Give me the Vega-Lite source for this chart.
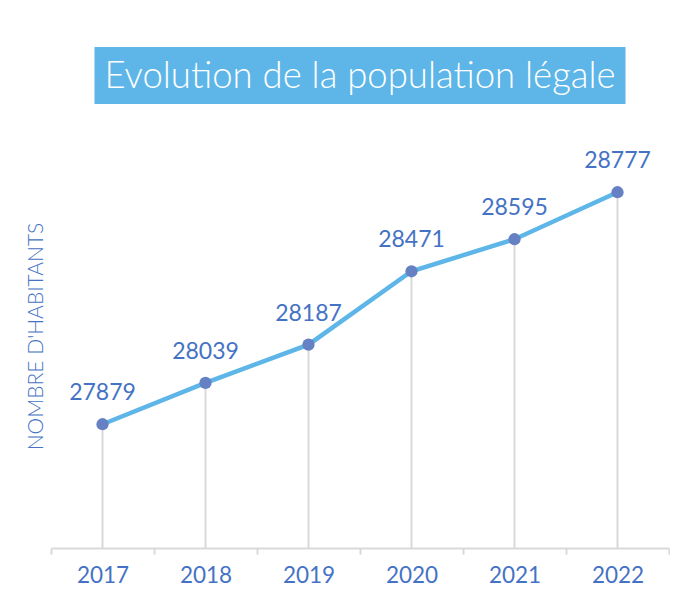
{
  "$schema": "https://vega.github.io/schema/vega-lite/v6.json",
  "padding": {"left": 25, "top": 47, "right": 0, "bottom": 0},
  "config": {"font": "Lato", "view": {"stroke": null}},
  "datasets": {
    "titre": [{"label": "Evolution de la population légale"}],
    "pop": [
      {"year": "2017", "pop": 27879},
      {"year": "2018", "pop": 28039},
      {"year": "2019", "pop": 28187},
      {"year": "2020", "pop": 28471},
      {"year": "2021", "pop": 28595},
      {"year": "2022", "pop": 28777}
    ]
  },
  "vconcat": [
    {
      "width": 531,
      "height": 57,
      "view": {"fill": "#5DB6E7", "stroke": null},
      "data": {"name": "titre"},
      "mark": {"type": "text", "fontSize": 36.5, "fontWeight": 300, "color": "#FFFFFF", "baseline": "middle", "align": "center", "dy": 1},
      "encoding": {"text": {"field": "label"}}
    },
    {
      "width": 618,
      "height": 424,
      "data": {"name": "pop"},
      "encoding": {
        "x": {
          "field": "year", "type": "ordinal",
          "scale": {"type": "band", "paddingInner": 0, "paddingOuter": 0},
          "axis": {"title": null, "labelAngle": 0, "labelFontSize": 22.5, "labelColor": "#4472C4", "labelPadding": 10,
                   "domainColor": "#D9D9D9", "domainWidth": 2, "tickColor": "#D9D9D9", "tickWidth": 2, "tickSize": 6,
                   "tickBand": "extent", "grid": false}
        },
        "y": {
          "field": "pop", "type": "quantitative",
          "scale": {"domain": [27400, 29041], "zero": false, "nice": false},
          "axis": {"title": "NOMBRE D'HABITANTS", "titleFontSize": 21, "titleFontWeight": 300, "titleColor": "#4472C4", "titlePadding": 5,
                   "labels": false, "ticks": false, "domain": false, "grid": false}
        }
      },
      "layer": [
        {"mark": {"type": "rule", "color": "#D9D9D9", "strokeWidth": 2}, "encoding": {"y2": {"datum": 27400}}},
        {"mark": {"type": "line", "color": "#5DB6E7", "strokeWidth": 4.5}},
        {"mark": {"type": "point", "filled": true, "size": 150, "color": "#6680C4", "opacity": 1}},
        {"mark": {"type": "text", "fontSize": 23, "color": "#4472C4", "baseline": "middle", "dy": -31}, "encoding": {"text": {"field": "pop", "type": "quantitative", "format": "d"}}}
      ]
    }
  ],
  "spacing": 20,
  "center": true,
  "bounds": "flush"
}
